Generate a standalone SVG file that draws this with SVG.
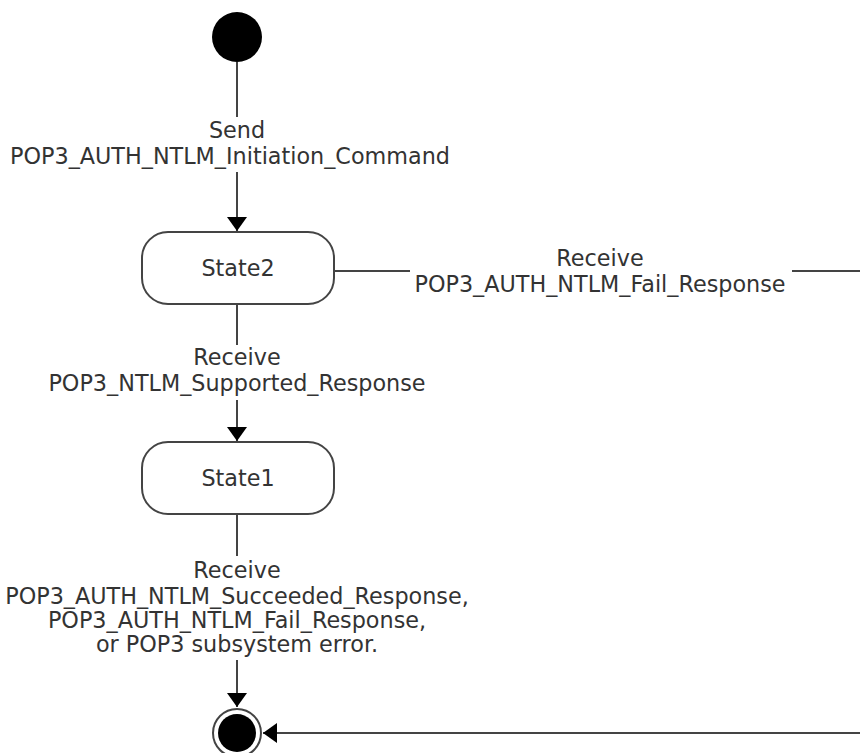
<svg xmlns="http://www.w3.org/2000/svg" width="860" height="753" viewBox="0 0 860 753">
<defs>
<style>
text{font-family:"DejaVu Sans",Verdana,sans-serif;font-size:22.3px;fill:#333;text-anchor:middle}
.st{fill:#fff;stroke:#444;stroke-width:2}
.cn{fill:none;stroke:#444;stroke-width:2}
</style>
<marker id="ah" markerWidth="14" markerHeight="20" refX="14" refY="10" orient="auto" markerUnits="userSpaceOnUse">
<path d="M0,0 L14,10 L0,20 Z" fill="#000"/>
</marker>
</defs>
<rect width="860" height="753" fill="#fff"/>
<g id="connectors">
<line class="cn" x1="237" y1="62" x2="237" y2="117"/>
<line class="cn" x1="237" y1="172" x2="237" y2="231" marker-end="url(#ah)"/>
<line class="cn" x1="237" y1="304" x2="237" y2="345"/>
<line class="cn" x1="237" y1="400" x2="237" y2="441" marker-end="url(#ah)"/>
<line class="cn" x1="237" y1="514" x2="237" y2="556"/>
<line class="cn" x1="237" y1="660" x2="237" y2="707" marker-end="url(#ah)"/>
<line class="cn" x1="334" y1="271" x2="410" y2="271"/>
<polyline class="cn" points="792,271 880,271 880,733 263,733" marker-end="url(#ah)"/>
<text x="237" y="138">Send</text>
<text x="230" y="164">POP3_AUTH_NTLM_Initiation_Command</text>
<text x="237" y="365">Receive</text>
<text x="237" y="391">POP3_NTLM_Supported_Response</text>
<text x="600" y="266">Receive</text>
<text x="600" y="292">POP3_AUTH_NTLM_Fail_Response</text>
<text x="237" y="578">Receive</text>
<text x="237" y="604">POP3_AUTH_NTLM_Succeeded_Response,</text>
<text x="237" y="628">POP3_AUTH_NTLM_Fail_Response,</text>
<text x="237" y="652">or POP3 subsystem error.</text>
</g>
<g id="initial"><circle cx="237" cy="37" r="25" fill="#000"/></g>
<g id="state2"><rect class="st" x="142" y="232" width="192" height="72" rx="26"/><text x="238" y="276">State2</text></g>
<g id="state1"><rect class="st" x="142" y="442" width="192" height="72" rx="26"/><text x="238" y="486">State1</text></g>
<g id="final"><circle cx="237" cy="733" r="24" fill="#fff" stroke="#444" stroke-width="2"/><circle cx="237" cy="733" r="19" fill="#000"/></g>
</svg>
